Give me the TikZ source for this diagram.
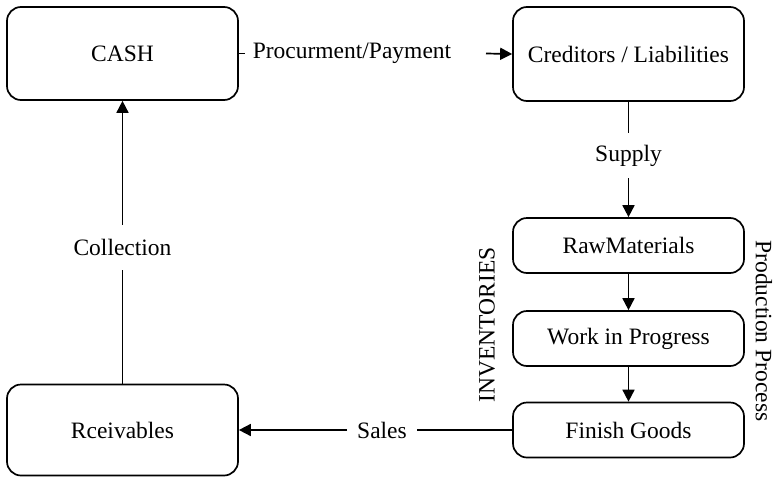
\documentclass[tikz,border=0pt]{standalone}
\usepackage{fontspec}
\setmainfont{Liberation Serif}
\usetikzlibrary{arrows.meta}
\begin{document}
\begin{tikzpicture}[x=1pt,y=-1pt,
  font=\fontsize{23.5}{28}\selectfont,
  box/.style={draw, line width=1.7pt, rounded corners=14pt, minimum width=231pt, inner sep=0pt},
  lbl/.style={inner xsep=10pt, inner ysep=0pt, minimum height=45pt},
  arr/.style={line width=1.7pt, -{Triangle[length=12pt,width=12pt]}},
  ln/.style={line width=1.7pt}]
\useasboundingbox (0,0) rectangle (777,477);
\node[box, minimum height=93pt] (cash) at (122.5,53.5) {CASH};
\node[box, minimum height=94pt] (cr) at (628.5,54) {Creditors / Liabilities};
\node[box, minimum height=55pt] (raw) at (628.5,245.5) {RawMaterials};
\node[box, minimum height=55pt] (wip) at (628.5,338.5) {Work in Progress};
\node[box, minimum height=55pt] (fin) at (628.5,430) {Finish Goods};
\node[box, minimum height=91pt] (rc) at (122.5,430) {Rceivables};
\node[lbl, inner xsep=8pt] (proc) at (352,53.5) {Procurment/Payment};
\coordinate (procend) at (486,53.5);
\node[lbl] (sup) at (628.5,155.5) {Supply};
\node[lbl] (sales) at (382,430) {Sales};
\node[lbl] (coll) at (122.5,247.5) {Collection};
\node[rotate=90, inner sep=0pt] (inv) at (487,325) {INVENTORIES};
\node[rotate=-90, inner sep=0pt] (pp) at (764,331) {Production Process};
\draw[ln] (cash.east) -- (proc.west);
\draw[arr] (procend) -- (cr.west);
\draw[ln] (cr.south) -- (sup.north);
\draw[arr] (sup.south) -- (raw.north);
\draw[arr] (raw) -- (wip);
\draw[arr] (wip) -- (fin);
\draw[ln] (fin.west) -- (sales.east);
\draw[arr] (sales.west) -- (rc.east);
\draw[ln] (rc.north) -- (coll.south);
\draw[arr] (coll.north) -- (cash.south);
\end{tikzpicture}
\end{document}
